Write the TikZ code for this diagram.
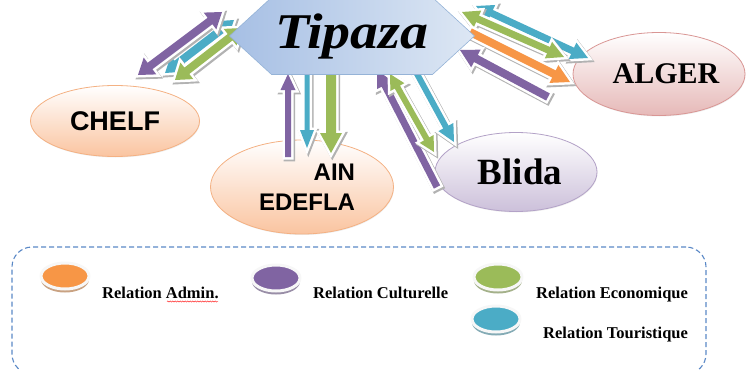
\documentclass[tikz,border=0pt]{standalone}
\usepackage{fontspec}
\setmainfont{Liberation Serif}
\newfontfamily\arialfont{Liberation Sans}
\usepackage{xcolor}
\usepackage{tikz}
\usetikzlibrary{shapes,arrows,calc}
\usetikzlibrary{positioning}
\usetikzlibrary{shadows}
\usetikzlibrary{decorations.pathmorphing}
\definecolor{admin}{HTML}{F79646}
\definecolor{culture}{HTML}{8064A2}
\definecolor{econ}{HTML}{9BBB59}
\definecolor{tour}{HTML}{4BACC6}
\definecolor{peach}{HTML}{FAC4A0}
\definecolor{peachD}{HTML}{F4B183}
\definecolor{rose}{HTML}{E6B9B8}
\definecolor{roseD}{HTML}{D99694}
\definecolor{lilac}{HTML}{CCC0DA}
\definecolor{lilacD}{HTML}{B3A2C7}
\definecolor{hexA}{HTML}{A6BFE4}
\definecolor{hexB}{HTML}{DDE7F4}
\definecolor{hexD}{HTML}{95B3D7}
\definecolor{boxD}{HTML}{5A88C6}
\tikzstyle{city} = [ellipse, draw, line width=0.8pt, top color=white,
                    inner sep=0pt, drop shadow={shadow xshift=.5pt,
                    shadow yshift=-1pt, opacity=.15}]
\tikzstyle{relarrow} = [line join=miter, miter limit=4,
    preaction={draw=black!30, line width=5.5pt,
               transform canvas={shift={(1.3pt,-1.6pt)}}},
    preaction={draw=white, line width=5pt}]
\tikzstyle{legend} = [font=\bfseries\fontsize{16.5}{18}\selectfont,
                      anchor=base west, inner sep=0pt]
\tikzset{key/.style={ellipse, fill=#1, draw=white!94!gray, line width=3pt,
    minimum width=48pt, minimum height=26pt,
    drop shadow={shadow xshift=0pt, shadow yshift=-3.5pt, opacity=1,
    fill=#1!50!gray!80}}}
% block arrow with one head: colour, half shaft, half head, head length, from, to
\newcommand{\relone}[6]{%
  \coordinate (hb) at ($(#6)!#4!(#5)$);
  \fill [relarrow, fill=#1]
    ($(#5)!#2!90:(#6)$) -- ($(hb)!#2!90:(#6)$) -- ($(hb)!#3!90:(#6)$) -- (#6)
    -- ($(hb)!#3!-90:(#6)$) -- ($(hb)!#2!-90:(#6)$) -- ($(#5)!#2!-90:(#6)$)
    -- cycle;}
% block arrow with two heads
\newcommand{\reltwo}[6]{%
  \coordinate (hb) at ($(#6)!#4!(#5)$);
  \coordinate (ha) at ($(#5)!#4!(#6)$);
  \fill [relarrow, fill=#1]
    (#5) -- ($(ha)!#3!-90:(#5)$) -- ($(ha)!#2!-90:(#5)$)
    -- ($(hb)!#2!90:(#6)$) -- ($(hb)!#3!90:(#6)$) -- (#6)
    -- ($(hb)!#3!-90:(#6)$) -- ($(hb)!#2!-90:(#6)$)
    -- ($(ha)!#2!90:(#5)$) -- ($(ha)!#3!90:(#5)$) -- cycle;}
\begin{document}
\begin{tikzpicture}[x=1pt, y=1pt]
  \useasboundingbox (0,0) rectangle (746,-369);
  % Legend frame
  \node [draw=boxD, dashed, dash pattern=on 5pt off 3pt, line width=1.1pt,
         rounded corners=20pt, minimum width=694pt, minimum height=127pt]
         (legendbox) at (359,-310.5) {};

  % Place cities
  \node [city, bottom color=peach, draw=peachD, minimum width=169pt,
         minimum height=71pt, font=\arialfont\bfseries\fontsize{27}{27}\selectfont]
         (chelf) at (115,-121) {CHELF};
  \node [city, bottom color=peach, draw=peachD, minimum width=183pt,
         minimum height=94pt, align=right,
         font=\arialfont\bfseries\fontsize{24}{30}\selectfont]
         (ain) at (302,-187) {\hspace*{10pt}AIN\\\hspace*{10pt}EDEFLA};
  \node [city, bottom color=rose, draw=roseD, minimum width=172pt,
         minimum height=83pt, font=\bfseries\fontsize{30}{30}\selectfont]
         (alger) at (659,-74) {\hspace*{14pt}ALGER};
  \node [city, bottom color=lilac, draw=lilacD, minimum width=162pt,
         minimum height=79pt, font=\bfseries\fontsize{37}{37}\selectfont]
         (blida) at (516,-172) {\hspace*{8pt}Blida};

  % Arrow ends
  \coordinate (cP1) at (138,-75);  \coordinate (cP2) at (222,-12);
  \coordinate (cB1) at (165,-73);  \coordinate (cB2) at (234,-20);
  \coordinate (cG1) at (175,-80);  \coordinate (cG2) at (242,-28);
  \coordinate (aP1) at (288,-157); \coordinate (aP2) at (288,-74);
  \coordinate (aB1) at (307,-70);  \coordinate (aB2) at (307,-148);
  \coordinate (aG1) at (331,-70);  \coordinate (aG2) at (331,-153);
  \coordinate (bP1) at (437,-187); \coordinate (bP2) at (377,-70);
  \coordinate (bG1) at (390,-74);  \coordinate (bG2) at (434,-152);
  \coordinate (bB1) at (416,-72);  \coordinate (bB2) at (454,-142);
  \coordinate (gB1) at (476,-6);   \coordinate (gB2) at (588,-58);
  \coordinate (gG1) at (462,-12);  \coordinate (gG2) at (564,-57);
  \coordinate (gO1) at (470,-32);  \coordinate (gO2) at (570,-82);
  \coordinate (gP1) at (548,-97);  \coordinate (gP2) at (460,-50);

  % Draw relations
  \reltwo{tour}{4pt}{10pt}{15pt}{cB1}{cB2}
  \reltwo{econ}{4pt}{10.5pt}{15pt}{cG1}{cG2}
  \reltwo{culture}{4pt}{10.5pt}{15pt}{cP1}{cP2}
  \relone{culture}{3pt}{7.5pt}{16pt}{aP1}{aP2}
  \relone{tour}{2.5pt}{7pt}{18pt}{aB1}{aB2}
  \relone{econ}{5pt}{11pt}{20pt}{aG1}{aG2}
  \relone{culture}{3.5pt}{8.5pt}{17pt}{bP1}{bP2}
  \reltwo{econ}{3pt}{8pt}{15pt}{bG1}{bG2}
  \relone{tour}{3pt}{8.5pt}{17pt}{bB1}{bB2}
  \reltwo{tour}{3.5pt}{9pt}{17pt}{gB1}{gB2}
  \reltwo{econ}{3.5pt}{9pt}{17pt}{gG1}{gG2}
  \relone{admin}{4pt}{10pt}{18pt}{gO1}{gO2}
  \relone{culture}{4pt}{10pt}{18pt}{gP1}{gP2}

  % Centre
  \node [shape=signal, signal to=west and east, signal pointer angle=85,
         minimum width=245pt, minimum height=77pt, inner sep=0pt,
         left color=hexA, right color=hexB, draw=hexD, line width=.6pt,
         font=\bfseries\itshape\fontsize{50}{50}\selectfont]
         (tipaza) at (352,-36) {\raisebox{-9pt}{\scalebox{1.12}[1]{Tipaza}}};

  % Legend
  \node [key=admin] (kadmin) at (65,-276) {};
  \node [key=culture] (kculture) at (276,-278) {};
  \node [key=econ] (kecon) at (498,-277) {};
  \node [key=tour] (ktour) at (496,-319) {};
  \node [legend] (tadmin) at (102,-298) {Relation Admin.};
  \node [legend] (tculture) at (313,-298) {Relation Culturelle};
  \node [legend] (tecon) at (536,-298) {Relation Economique};
  \node [legend] (ttour) at (543,-338) {Relation Touristique};
  \draw [red, line width=.4pt, decorate,
         decoration={snake, amplitude=.6pt, segment length=2.5pt}]
         (167,-301.5) -- (218,-301.5);
\end{tikzpicture}
\end{document}
